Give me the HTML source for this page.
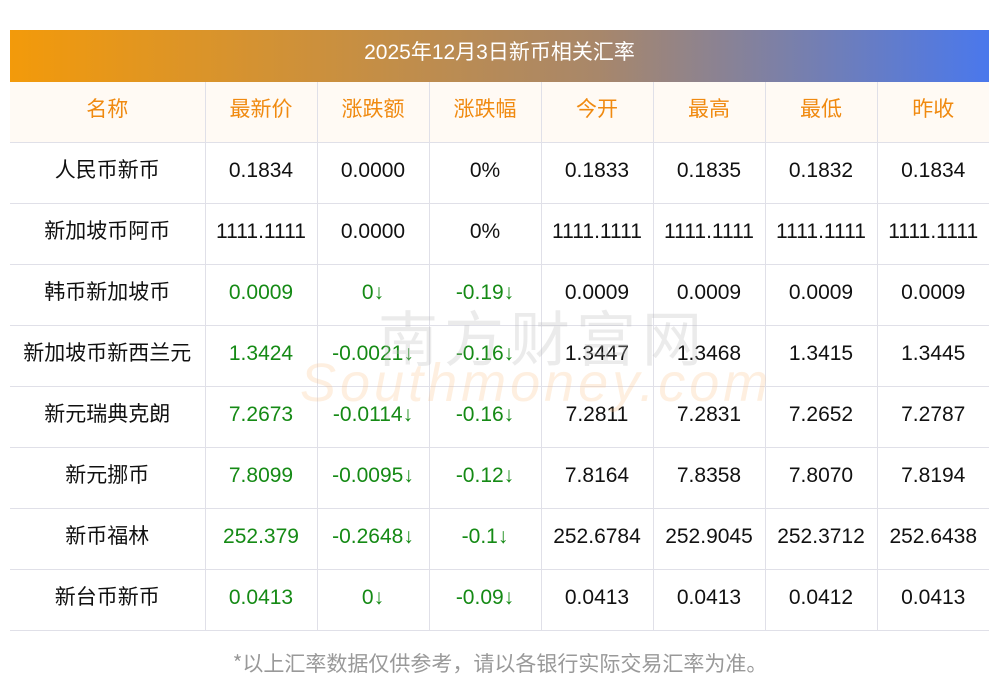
<!DOCTYPE html>
<html><head><meta charset="utf-8"><style>
body{margin:0;width:1000px;height:697px;background:#fff;font-family:"Liberation Sans","Noto Sans CJK SC",sans-serif;position:relative;overflow:hidden}
.bar{position:absolute;left:10px;top:30px;width:979px;height:52px;background:linear-gradient(90deg,#f39a0a,#a8876a 60%,#4a78ec);color:#fff;font-size:21px;text-align:center;line-height:46px;font-family:"Liberation Sans","Noto Sans CJK SC",sans-serif}
table{position:absolute;left:10px;top:82px;border-collapse:collapse;width:979px;table-layout:fixed}
td{height:60px;border:1px solid #e0e0e8;text-align:center;font-size:21px;color:#111;padding:0;white-space:nowrap;line-height:24px}
td span{position:relative;top:-2px}
td:first-child,tr.h td{font-family:"Noto Sans CJK SC",sans-serif;font-size:21px}
td:first-child span,tr.h td span{top:-4px}
tr td:first-child{border-left:none}
tr td:last-child{border-right:none}
tr.h td{background:#fffaf4;color:#f08a10;border-top:none}
.g{color:#158a15}
.wm{position:absolute;left:378px;top:292px;font-size:60px;color:rgba(190,190,190,.3);letter-spacing:6px;font-family:"Noto Sans CJK SC",sans-serif}
.wm2{position:absolute;left:300px;top:352px;font-size:54px;color:rgba(250,190,130,.25);font-style:italic;letter-spacing:4px}
.foot{position:absolute;left:0;width:1000px;top:648px;text-align:center;color:#999;font-size:21px;font-family:"Noto Sans CJK SC",sans-serif}
</style></head><body>
<div class="bar">2025年12月3日新币相关汇率</div>
<table>
<colgroup><col style="width:195px"><col style="width:112px"><col style="width:112px"><col style="width:112px"><col style="width:112px"><col style="width:112px"><col style="width:112px"><col style="width:112px"></colgroup>
<tr class="h"><td><span>名称</span></td><td><span>最新价</span></td><td><span>涨跌额</span></td><td><span>涨跌幅</span></td><td><span>今开</span></td><td><span>最高</span></td><td><span>最低</span></td><td><span>昨收</span></td></tr>
<tr><td><span>人民币新币</span></td><td><span>0.1834</span></td><td><span>0.0000</span></td><td><span>0%</span></td><td><span>0.1833</span></td><td><span>0.1835</span></td><td><span>0.1832</span></td><td><span>0.1834</span></td></tr>
<tr><td><span>新加坡币阿币</span></td><td><span>1111.1111</span></td><td><span>0.0000</span></td><td><span>0%</span></td><td><span>1111.1111</span></td><td><span>1111.1111</span></td><td><span>1111.1111</span></td><td><span>1111.1111</span></td></tr>
<tr><td><span>韩币新加坡币</span></td><td class="g"><span>0.0009</span></td><td class="g"><span>0↓</span></td><td class="g"><span>-0.19↓</span></td><td><span>0.0009</span></td><td><span>0.0009</span></td><td><span>0.0009</span></td><td><span>0.0009</span></td></tr>
<tr><td><span>新加坡币新西兰元</span></td><td class="g"><span>1.3424</span></td><td class="g"><span>-0.0021↓</span></td><td class="g"><span>-0.16↓</span></td><td><span>1.3447</span></td><td><span>1.3468</span></td><td><span>1.3415</span></td><td><span>1.3445</span></td></tr>
<tr><td><span>新元瑞典克朗</span></td><td class="g"><span>7.2673</span></td><td class="g"><span>-0.0114↓</span></td><td class="g"><span>-0.16↓</span></td><td><span>7.2811</span></td><td><span>7.2831</span></td><td><span>7.2652</span></td><td><span>7.2787</span></td></tr>
<tr><td><span>新元挪币</span></td><td class="g"><span>7.8099</span></td><td class="g"><span>-0.0095↓</span></td><td class="g"><span>-0.12↓</span></td><td><span>7.8164</span></td><td><span>7.8358</span></td><td><span>7.8070</span></td><td><span>7.8194</span></td></tr>
<tr><td><span>新币福林</span></td><td class="g"><span>252.379</span></td><td class="g"><span>-0.2648↓</span></td><td class="g"><span>-0.1↓</span></td><td><span>252.6784</span></td><td><span>252.9045</span></td><td><span>252.3712</span></td><td><span>252.6438</span></td></tr>
<tr><td><span>新台币新币</span></td><td class="g"><span>0.0413</span></td><td class="g"><span>0↓</span></td><td class="g"><span>-0.09↓</span></td><td><span>0.0413</span></td><td><span>0.0413</span></td><td><span>0.0412</span></td><td><span>0.0413</span></td></tr>
</table>
<div class="wm">南方财富网</div>
<div class="wm2">Southmoney.com</div>
<div class="foot">*以上汇率数据仅供参考，请以各银行实际交易汇率为准。</div>
</body></html>
